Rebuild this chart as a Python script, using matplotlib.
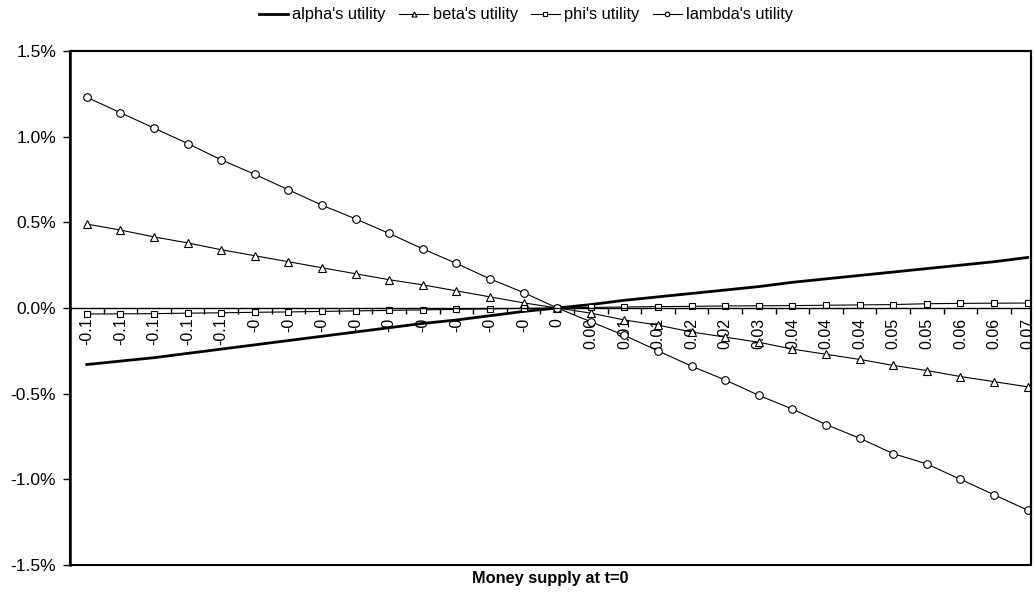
import matplotlib
matplotlib.use("Agg")
import matplotlib.pyplot as plt
from matplotlib.ticker import FixedLocator, FuncFormatter

plt.rcParams['font.family'] = ['Liberation Sans', 'DejaVu Sans']

x_labels = ["-0.1"] * 5 + ["-0"] * 9 + ["0"] + [
    "0.00", "0.01", "0.01", "0.02", "0.02", "0.03", "0.04",
    "0.04", "0.04", "0.05", "0.05", "0.06", "0.06", "0.07"]

alpha_u = [-0.33, -0.31, -0.29, -0.265, -0.24, -0.215, -0.19, -0.165, -0.14, -0.115,
           -0.09, -0.07, -0.045, -0.02, 0.0,
           0.02, 0.045, 0.065, 0.085, 0.105, 0.125, 0.15, 0.17, 0.19, 0.21,
           0.23, 0.25, 0.27, 0.295]
beta_u = [0.49, 0.455, 0.415, 0.38, 0.34, 0.305, 0.27, 0.235, 0.20, 0.165,
          0.135, 0.10, 0.065, 0.03, 0.0,
          -0.03, -0.07, -0.10, -0.14, -0.17, -0.20, -0.24, -0.27, -0.30, -0.335,
          -0.365, -0.40, -0.43, -0.46]
phi_u = [-0.035, -0.034, -0.033, -0.03, -0.028, -0.025, -0.023, -0.02, -0.017, -0.014,
         -0.011, -0.008, -0.005, -0.002, 0.0,
         0.003, 0.006, 0.008, 0.01, 0.012, 0.013, 0.014, 0.016, 0.018, 0.02,
         0.025, 0.027, 0.028, 0.029]
lambda_u = [1.23, 1.14, 1.05, 0.96, 0.865, 0.78, 0.69, 0.60, 0.52, 0.435,
            0.345, 0.26, 0.17, 0.09, 0.0,
            -0.08, -0.16, -0.25, -0.34, -0.42, -0.51, -0.59, -0.68, -0.76, -0.85,
            -0.91, -1.00, -1.09, -1.18]

y_ticks = [-1.5, -1.0, -0.5, 0.0, 0.5, 1.0, 1.5]

W, H = 1036, 610
fig = plt.figure(figsize=(W / 100, H / 100), dpi=100)
ax = fig.add_axes([70 / W, 1 - 565 / H, (1031 - 70) / W, (565 - 51) / H])

xs = list(range(len(x_labels)))
l1, = ax.plot(xs, alpha_u, color='black', lw=2.0, label="alpha's utility")
l2, = ax.plot(xs, beta_u, color='black', lw=0.8, marker='^', ms=6,
              mfc='white', mec='black', mew=0.8, label="beta's utility")
l3, = ax.plot(xs, phi_u, color='black', lw=0.8, marker='s', ms=5,
              mfc='white', mec='black', mew=0.8, label="phi's utility")
l4, = ax.plot(xs, lambda_u, color='black', lw=0.8, marker='o', ms=5.5,
              mfc='white', mec='black', mew=0.8, label="lambda's utility")

ax.set_xlim(-0.5, 28.1)
ax.set_ylim(-1.5, 1.5)

# y axis
ax.set_yticks(y_ticks)
ax.yaxis.set_major_formatter(FuncFormatter(lambda v, p: f"{v:.1f}%"))
ax.tick_params(axis='y', direction='out', length=5, width=1, labelsize=12.5, pad=5)

# x axis at zero
ax.spines['bottom'].set_position(('data', 0))
ax.spines['bottom'].set_linewidth(1.0)
ax.xaxis.set_major_locator(FixedLocator([i + 0.5 for i in range(-1, 28)]))
ax.xaxis.set_major_formatter(FuncFormatter(lambda v, p: ""))
ax.xaxis.set_minor_locator(FixedLocator(xs))
ax.set_xticklabels(x_labels, minor=True)
ax.tick_params(axis='x', which='major', direction='out', length=4, width=1)
ax.tick_params(axis='x', which='minor', length=0, labelsize=11.5, labelrotation=90, pad=7)

for s in ['left', 'top', 'right']:
    ax.spines[s].set_linewidth(1.5)
ax.spines['left'].set_linewidth(1.8)
ax.patch.set_edgecolor('black')
ax.patch.set_linewidth(1.5)

fig.text(550 / W, 1 - 578 / H, "Money supply at t=0", ha='center', va='center',
         fontsize=11.8, fontweight='bold')

fig.legend(handles=[l1, l2, l3, l4], loc='center', bbox_to_anchor=(526 / W, 1 - 15 / H),
           ncol=4, frameon=False, fontsize=11.8, handlelength=1.8, handletextpad=0.25,
           columnspacing=0.8, markerscale=0.6)

fig.savefig("out.png", dpi=100)
